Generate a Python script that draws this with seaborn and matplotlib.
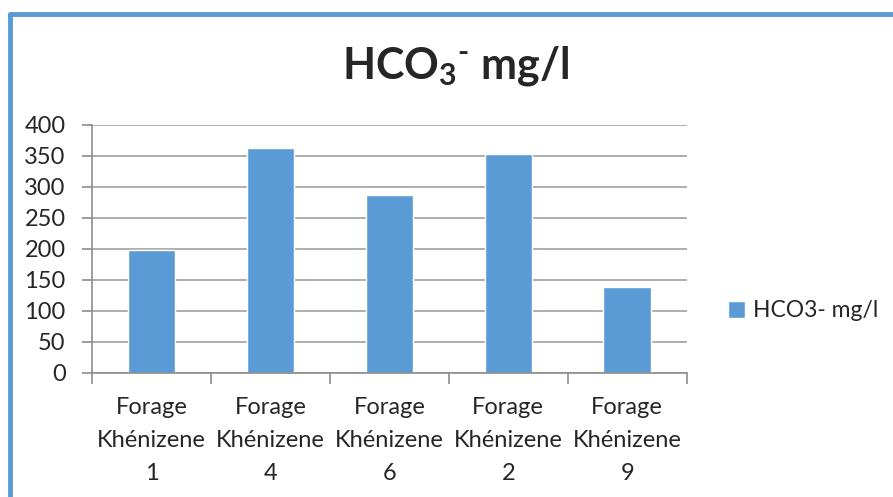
import numpy as np
import pandas as pd
import matplotlib
matplotlib.use('Agg')
import matplotlib.pyplot as plt
from matplotlib.lines import Line2D
import seaborn as sns

# valeurs
forages = ['Forage\nKhénizene\n1', 'Forage\nKhénizene\n4', 'Forage\nKhénizene\n6',
           'Forage\nKhénizene\n2', 'Forage\nKhénizene\n9']
hco3 = [198, 363, 287, 353, 139]
serie = 'HCO3- mg/l'
yticks = [0, 50, 100, 150, 200, 250, 300, 350, 400]

df = pd.DataFrame({'forage': forages, 'hco3': hco3, 'serie': serie})

sns.set_style('white')
plt.rcParams['font.family'] = ['Lato', 'DejaVu Sans']
plt.rcParams['mathtext.fontset'] = 'custom'
plt.rcParams['mathtext.rm'] = 'Lato'
plt.rcParams['mathtext.bf'] = 'Lato:bold'

blue = '#5b9bd5'
grey = '#8c8c8c'

fig = plt.figure(figsize=(8.93, 4.97), dpi=100)
ax = fig.add_axes([0.103, 0.2495, 0.666, 0.499])

sns.barplot(data=df, x='forage', y='hco3', hue='serie', palette=[blue],
            width=0.4, saturation=1, ax=ax)

ax.set_ylim(0, 400)
ax.set_xlim(-0.5, 4.5)
ax.set_yticks(yticks)
ax.yaxis.grid(True, color='#a0a0a0', linewidth=1.2)
ax.set_axisbelow(True)
ax.set_xlabel('')
ax.set_ylabel('')
ax.tick_params(axis='y', labelsize=17, length=7, color=grey, width=1.2, pad=12, direction='out', left=True)
ax.tick_params(axis='x', which='major', labelsize=17, length=0, pad=17)
ax.set_xticks(np.arange(-0.5, 5, 1), minor=True)
ax.tick_params(axis='x', which='minor', length=8, color=grey, width=1.2, bottom=True, direction='out')
for lab in ax.get_xticklabels():
    lab.set_linespacing(1.72)

for s in ['top', 'right']:
    ax.spines[s].set_visible(False)
for s in ['left', 'bottom']:
    ax.spines[s].set_color(grey)
    ax.spines[s].set_linewidth(1.2)

handles, labels = ax.get_legend_handles_labels()
ax.legend(handles, labels, loc='center left', bbox_to_anchor=(1.035, 0.25), frameon=False,
          fontsize=16.5, handlelength=0.75, handleheight=0.75, handletextpad=0.35)

fig.text(0.51, 0.868, r'HCO$_\mathbf{3}{}^\mathbf{‐}$ mg/l', ha='center', va='center',
         fontsize=31, fontweight='bold')

# cadre bleu du graphique
fig.add_artist(Line2D([0.0112, 0.0112], [0, 0.971], color=blue, linewidth=3.5))
fig.add_artist(Line2D([0.0112, 1], [0.971, 0.971], color=blue, linewidth=3.5))

plt.savefig('out.png', dpi=100)
